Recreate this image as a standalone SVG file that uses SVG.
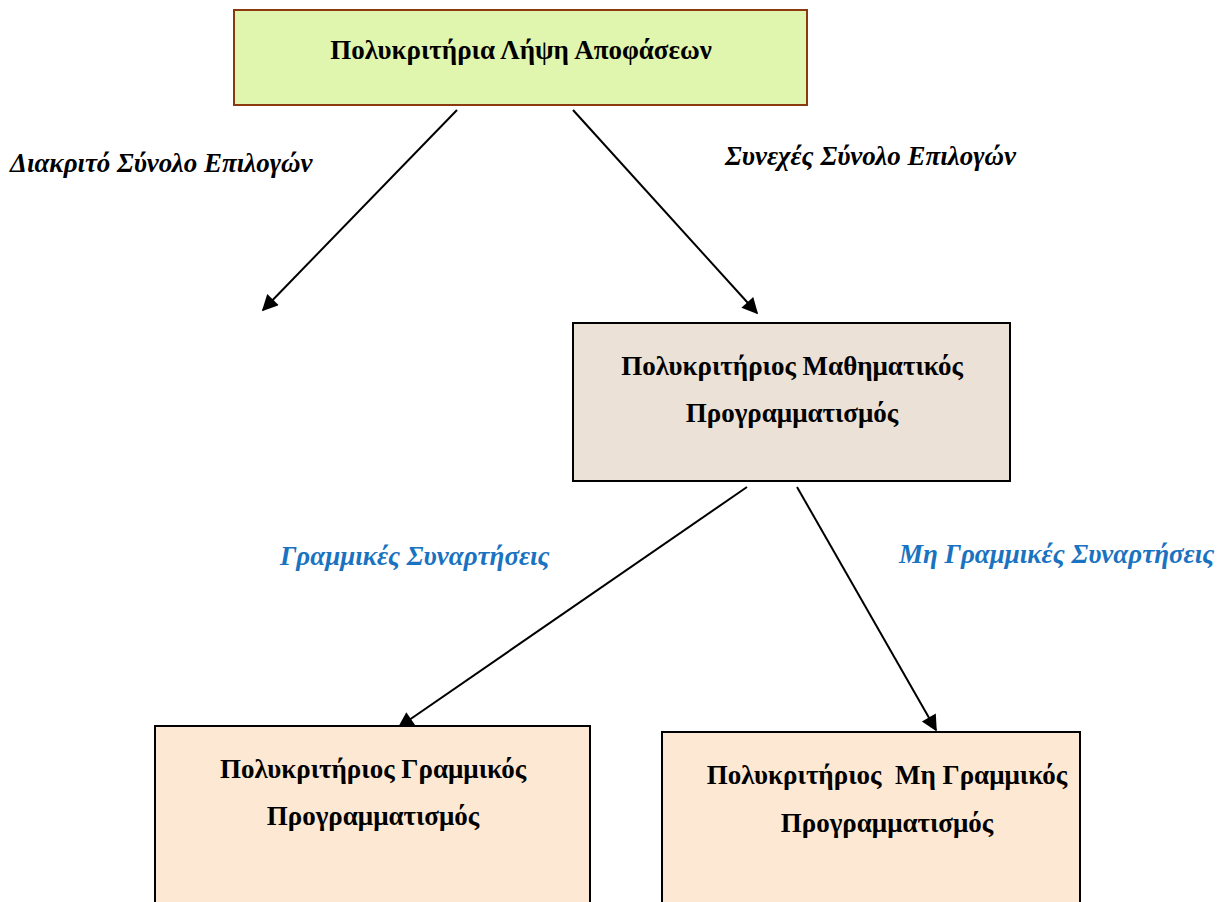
<svg xmlns="http://www.w3.org/2000/svg" width="1223" height="902" viewBox="0 0 1223 902">
  <style>
    .box-text { font-family: "Liberation Serif", "DejaVu Serif", serif; font-weight: bold; font-size: 27px; fill: #000; text-anchor: middle; }
    .edge-label { font-family: "Liberation Serif", "DejaVu Serif", serif; font-weight: bold; font-style: italic; font-size: 27px; }
    .black { fill: #000; }
    .blue { fill: #1a73c0; }
    .conn { stroke: #000; stroke-width: 2; fill: none; marker-end: url(#arrow); }
  </style>
  <defs>
    <marker id="arrow" viewBox="0 0 10 10" refX="9" refY="5" markerWidth="10" markerHeight="8" markerUnits="strokeWidth" orient="auto">
      <path d="M0,0 L10,5 L0,10 z" fill="#000"/>
    </marker>
  </defs>
  <rect width="1223" height="902" fill="#fff"/>

  <!-- connectors -->
  <g id="connectors">
    <line class="conn" x1="457" y1="110" x2="263" y2="310"/>
    <line class="conn" x1="573" y1="110" x2="757" y2="313"/>
    <line class="conn" x1="747" y1="487" x2="399" y2="727"/>
    <line class="conn" x1="797" y1="487" x2="936" y2="730"/>
    <text class="edge-label black" x="10" y="172">Διακριτό Σύνολο Επιλογών</text>
    <text class="edge-label black" x="725" y="165">Συνεχές Σύνολο Επιλογών</text>
    <text class="edge-label blue" x="280" y="565">Γραμμικές Συναρτήσεις</text>
    <text class="edge-label blue" x="899" y="563">Μη Γραμμικές Συναρτήσεις</text>
  </g>

  <!-- root node -->
  <g id="node-mcdm">
    <rect x="234" y="10" width="573" height="95" fill="#e0f6ae" stroke="#8b3a10" stroke-width="2"/>
    <text class="box-text" x="521" y="59">Πολυκριτήρια Λήψη Αποφάσεων</text>
  </g>

  <!-- continuous decision space -->
  <g id="node-mcmp">
    <rect x="573" y="323" width="437" height="158" fill="#ebe1d6" stroke="#000" stroke-width="2"/>
    <text class="box-text" x="792" y="375">Πολυκριτήριος Μαθηματικός</text>
    <text class="box-text" x="792" y="422">Προγραμματισμός</text>
  </g>

  <!-- linear programming -->
  <g id="node-mclp">
    <rect x="155" y="726" width="435" height="190" fill="#fde9d3" stroke="#000" stroke-width="2"/>
    <text class="box-text" x="373" y="778">Πολυκριτήριος Γραμμικός</text>
    <text class="box-text" x="373" y="825">Προγραμματισμός</text>
  </g>

  <!-- non-linear programming -->
  <g id="node-mcnlp">
    <rect x="662" y="732" width="418" height="190" fill="#fde9d3" stroke="#000" stroke-width="2"/>
    <text class="box-text" x="887" y="784" xml:space="preserve">Πολυκριτήριος  Μη Γραμμικός</text>
    <text class="box-text" x="887" y="832">Προγραμματισμός</text>
  </g>
</svg>
